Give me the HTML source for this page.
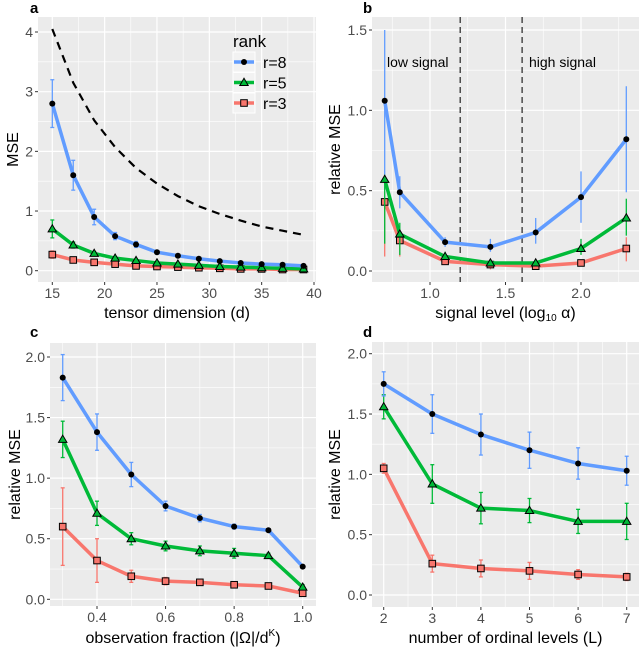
<!DOCTYPE html>
<html><head><meta charset="utf-8"><style>
body{margin:0;background:#fff;}
svg text{font-family:"Liberation Sans",sans-serif;}
</style></head><body>
<svg id="fig" width="640" height="651" viewBox="0 0 640 651" xmlns="http://www.w3.org/2000/svg"></svg>
<script>
// ---- Panel a data ----
const aX=[15,17,19,21,23,25,27,29,31,33,35,37,39];
const aR8=[2.8,1.6,0.9,0.58,0.44,0.31,0.25,0.2,0.16,0.13,0.11,0.1,0.08];
const aR8e=[0.4,0.25,0.13,0.06,0.05,0.03,0.02,0.02,0.01,0.01,0.01,0.01,0.01];
const aR5=[0.7,0.43,0.29,0.21,0.17,0.13,0.11,0.09,0.07,0.06,0.05,0.04,0.03];
const aR5e=[0.15,0.05,0.03,0.02,0.02,0.01,0.01,0.01,0.01,0.01,0.01,0.01,0.01];
const aR3=[0.27,0.18,0.14,0.11,0.08,0.07,0.06,0.05,0.04,0.03,0.03,0.02,0.02];
const aR3e=[0.06,0.02,0.02,0.01,0.01,0.01,0.01,0.01,0.01,0.01,0.01,0.01,0.01];
const aBound=[4.05,3.15,2.52,2.07,1.72,1.46,1.25,1.08,0.95,0.84,0.74,0.67,0.60];
const aXTicks=[15,20,25,30,35,40];
const aYTicks=[0,1,2,3,4];
// ---- Panel b data ----
const bX=[0.7,0.8,1.1,1.4,1.7,2.0,2.3];
const bR8=[1.06,0.49,0.18,0.15,0.24,0.46,0.82];
const bR8lo=[0.6,0.39,0.15,0.12,0.17,0.3,0.49];
const bR8hi=[1.5,0.59,0.21,0.2,0.33,0.62,1.15];
const bR5=[0.57,0.23,0.09,0.05,0.05,0.14,0.33];
const bR5lo=[0.17,0.1,0.07,0.03,0.03,0.1,0.22];
const bR5hi=[0.6,0.3,0.12,0.07,0.07,0.2,0.45];
const bR3=[0.43,0.19,0.06,0.04,0.03,0.05,0.14];
const bR3lo=[0.09,0.09,0.05,0.01,0.02,0.04,0.06];
const bR3hi=[0.43,0.2,0.07,0.05,0.04,0.06,0.21];
const bVlines=[1.2,1.61];
const bXTicks=[1.0,1.5,2.0];
const bYTicks=[0,0.5,1.0,1.5];
// ---- Panel c data ----
const cX=[0.3,0.4,0.5,0.6,0.7,0.8,0.9,1.0];
const cR8=[1.83,1.38,1.03,0.77,0.67,0.6,0.57,0.27];
const cR8e=[0.19,0.15,0.1,0.04,0.03,0.02,0.01,0.01];
const cR5=[1.32,0.71,0.5,0.44,0.4,0.38,0.36,0.1];
const cR5e=[0.15,0.1,0.05,0.04,0.04,0.04,0.02,0.02];
const cR3=[0.6,0.32,0.19,0.15,0.14,0.12,0.11,0.05];
const cR3e=[0.32,0.18,0.05,0.03,0.02,0.02,0.02,0.02];
const cXTicks=[0.4,0.6,0.8,1.0];
const cYTicks=[0,0.5,1.0,1.5,2.0];
// ---- Panel d data ----
const dX=[2,3,4,5,6,7];
const dR8=[1.75,1.5,1.33,1.2,1.09,1.03];
const dR8e=[0.1,0.16,0.17,0.15,0.13,0.12];
const dR5=[1.56,0.92,0.72,0.7,0.61,0.61];
const dR5e=[0.1,0.16,0.13,0.1,0.1,0.15];
const dR3=[1.05,0.26,0.22,0.2,0.17,0.15];
const dR3e=[0.04,0.07,0.07,0.07,0.04,0.03];
const dXTicks=[2,3,4,5,6,7];
const dYTicks=[0,0.5,1.0,1.5,2.0];

const NS="http://www.w3.org/2000/svg";
const svg=document.getElementById('fig');
const BLUE="#619CFF",GREEN="#00BA38",RED="#F8766D";
function mk(tag,attrs,parent){const e=document.createElementNS(NS,tag);for(const k in attrs)e.setAttribute(k,attrs[k]);(parent||svg).appendChild(e);return e;}
function lin(d0,d1,p0,p1){return v=>p0+(v-d0)*(p1-p0)/(d1-d0);}
function fmt(v,dec){return v.toFixed(dec);}

function panel(o){
  const g=mk('g',{});
  
  
  const bg=mk('rect',{x:o.L,y:o.T,width:o.R-o.L,height:o.B-o.T,fill:'#EBEBEB'},g);
  
  
  const X=o.sx,Y=o.sy;
  for(let i=0;i<o.yt.length-1;i++){const v=(o.yt[i]+o.yt[i+1])/2;mk('line',{x1:o.L,x2:o.R,y1:Y(v),y2:Y(v),stroke:'#fff','stroke-width':0.6},g);}
  if(o.yt.length){const st=o.yt[1]-o.yt[0];const v=o.yt[o.yt.length-1]+st/2;if(Y(v)>o.T)mk('line',{x1:o.L,x2:o.R,y1:Y(v),y2:Y(v),stroke:'#fff','stroke-width':0.6},g);}
  const xs=o.xt.slice();const st=xs[1]-xs[0];
  const mx=[xs[0]-st/2].concat(xs.map(v=>v+st/2));
  mx.forEach(v=>{const p=X(v);if(p>o.L&&p<o.R)mk('line',{x1:p,x2:p,y1:o.T,y2:o.B,stroke:'#fff','stroke-width':0.6},g);});
  o.yt.forEach(v=>{const p=Y(v);mk('line',{x1:o.L,x2:o.R,y1:p,y2:p,stroke:'#fff','stroke-width':1.2},g);
    mk('line',{x1:o.L-3,x2:o.L,y1:p,y2:p,stroke:'#333','stroke-width':1},g);
    const t=mk('text',{x:o.L-5,y:p+5,'text-anchor':'end','font-size':14,fill:'#4D4D4D'},g);t.textContent=fmt(v,o.ydec);
    });
  o.xt.forEach(v=>{const p=X(v);if(p<=o.R+1)mk('line',{x1:p,x2:p,y1:o.T,y2:o.B,stroke:'#fff','stroke-width':1.2},g);
    mk('line',{x1:p,x2:p,y1:o.B,y2:o.B+3,stroke:'#333','stroke-width':1},g);
    const t=mk('text',{x:p,y:o.B+16,'text-anchor':'middle','font-size':14,fill:'#4D4D4D'},g);t.textContent=fmt(v,o.xdec);
    });
  const yt=mk('text',{x:0,y:0,'text-anchor':'middle','font-size':16,fill:'#000',transform:`translate(${o.ytx},${(o.T+o.B)/2}) rotate(-90)`},g);
  yt.textContent=o.ytitle;
  const xt=mk('text',{x:(o.L+o.R)/2,y:o.xty,'text-anchor':'middle','font-size':16,fill:'#000'},g);
  xt.innerHTML=o.xtitle;
  const pl=mk('text',{x:o.plx,y:o.ply,'font-size':15,'font-weight':'bold',fill:'#000'},g);
  pl.textContent=o.label;
  return g;
}
function marker(g,shape,x,y,col){
  let m;
  if(shape==='circle')m=mk('circle',{cx:x,cy:y,r:3,fill:'#000'},g);
  else if(shape==='tri')m=mk('polygon',{points:`${x},${y-4.2} ${x-4.2},${y+3} ${x+4.2},${y+3}`,fill:col,stroke:'#000','stroke-width':1},g);
  else m=mk('rect',{x:x-3.3,y:y-3.3,width:6.6,height:6.6,fill:col,stroke:'#000','stroke-width':1},g);
  return m;
}
function series(g,X,Y,xs,ys,lo,hi,col,shape,name,caps){
  const sg=mk('g',{},g);
  
  
  for(let i=0;i<xs.length;i++){
    const x=X(xs[i]),y1=Y(lo[i]),y2=Y(hi[i]);
    const e=mk('line',{x1:x,x2:x,y1:y1,y2:y2,stroke:col,'stroke-width':1.3},sg);
    
    if(caps){mk('line',{x1:x-2,x2:x+2,y1:y1,y2:y1,stroke:col,'stroke-width':1.3},sg);mk('line',{x1:x-2,x2:x+2,y1:y2,y2:y2,stroke:col,'stroke-width':1.3},sg);}
  }
  const p=mk('polyline',{points:xs.map((v,i)=>X(v)+','+Y(ys[i])).join(' '),fill:'none',stroke:col,'stroke-width':3.5,'stroke-linejoin':'round'},sg);
  
  for(let i=0;i<xs.length;i++){const m=marker(sg,shape,X(xs[i]),Y(ys[i]),col);}
}
const sub=(a,b)=>a.map((v,i)=>v-b[i]), add=(a,b)=>a.map((v,i)=>v+b[i]);

// Panel a
{const o={name:'panel-a',L:38,R:316,T:17,B:282,sx:lin(15,40,52.3,314),sy:lin(0,4,270.7,32),xt:aXTicks,yt:aYTicks,xdec:0,ydec:0,
 ytitle:'MSE',ytx:18,xtitle:'tensor dimension (d)',xty:318,label:'a',plx:30,ply:13};
 const g=panel(o);
 const db=mk('polyline',{points:aX.map((v,i)=>o.sx(v)+','+o.sy(aBound[i])).join(' '),fill:'none',stroke:'#000','stroke-width':2.2,'stroke-dasharray':'8,6'},g);
 
 series(g,o.sx,o.sy,aX,aR3,sub(aR3,aR3e),add(aR3,aR3e),RED,'sq','series-r3',true);
 series(g,o.sx,o.sy,aX,aR5,sub(aR5,aR5e),add(aR5,aR5e),GREEN,'tri','series-r5',true);
 series(g,o.sx,o.sy,aX,aR8,sub(aR8,aR8e),add(aR8,aR8e),BLUE,'circle','series-r8',true);
 const lg=mk('g',{},g);
 const lt=mk('text',{x:233,y:47,'font-size':17,fill:'#000'},lg);lt.textContent='rank';
 
 [['r=8',BLUE,'circle'],['r=5',GREEN,'tri'],['r=3',RED,'sq']].forEach((d,i)=>{
  const cy=62+i*20.5;
  const e=mk('g',{},lg);
  mk('rect',{x:233,y:cy-10,width:22,height:20,fill:'#F2F2F2',stroke:'#fff','stroke-width':1},e);
  mk('line',{x1:234,x2:254,y1:cy,y2:cy,stroke:d[1],'stroke-width':3.5},e);
  marker(e,d[2],244,cy,d[1]);
  const t=mk('text',{x:263,y:cy+6,'font-size':16,fill:'#000'},e);t.textContent=d[0];
 });
}
// Panel b
{const o={name:'panel-b',L:372,R:639,T:17,B:282,sx:lin(1,2,430,581),sy:lin(0,1.5,271,30),xt:bXTicks,yt:bYTicks,xdec:1,ydec:1,
 ytitle:'relative MSE',ytx:340,xtitle:'signal level (log<tspan font-size="10" dy="3">10</tspan><tspan dy="-3"> α)</tspan>',xty:318,label:'b',plx:363,ply:13};
 const g=panel(o);
 bVlines.forEach(v=>{const l=mk('line',{x1:o.sx(v),x2:o.sx(v),y1:o.T,y2:o.B,stroke:'#333','stroke-width':1.3,'stroke-dasharray':'6,4'},g);
  });
 const t1=mk('text',{x:387,y:67,'font-size':14,fill:'#000'},g);t1.textContent='low signal';
 
 const t2=mk('text',{x:529,y:67,'font-size':14,fill:'#000'},g);t2.textContent='high signal';
 
 series(g,o.sx,o.sy,bX,bR3,bR3lo,bR3hi,RED,'sq','series-r3',false);
 series(g,o.sx,o.sy,bX,bR5,bR5lo,bR5hi,GREEN,'tri','series-r5',false);
 series(g,o.sx,o.sy,bX,bR8,bR8lo,bR8hi,BLUE,'circle','series-r8',false);
}
// Panel c
{const o={name:'panel-c',L:50,R:316,T:343,B:606,sx:lin(0.4,1.0,97,302.7),sy:lin(0,2,599.3,357),xt:cXTicks,yt:cYTicks,xdec:1,ydec:1,
 ytitle:'relative MSE',ytx:20,xtitle:'observation fraction (|Ω|/d<tspan font-size="10" dy="-7">K</tspan><tspan dy="7">)</tspan>',xty:643,label:'c',plx:30,ply:337};
 const g=panel(o);
 series(g,o.sx,o.sy,cX,cR3,sub(cR3,cR3e),add(cR3,cR3e),RED,'sq','series-r3',true);
 series(g,o.sx,o.sy,cX,cR5,sub(cR5,cR5e),add(cR5,cR5e),GREEN,'tri','series-r5',true);
 series(g,o.sx,o.sy,cX,cR8,sub(cR8,cR8e),add(cR8,cR8e),BLUE,'circle','series-r8',true);
}
// Panel d
{const o={name:'panel-d',L:372,R:639,T:342,B:607,sx:lin(2,7,383.7,626.7),sy:lin(0,2,595,353.7),xt:dXTicks,yt:dYTicks,xdec:0,ydec:1,
 ytitle:'relative MSE',ytx:340,xtitle:'number of ordinal levels (L)',xty:643,label:'d',plx:363,ply:337};
 const g=panel(o);
 series(g,o.sx,o.sy,dX,dR3,sub(dR3,dR3e),add(dR3,dR3e),RED,'sq','series-r3',true);
 series(g,o.sx,o.sy,dX,dR5,sub(dR5,dR5e),add(dR5,dR5e),GREEN,'tri','series-r5',true);
 series(g,o.sx,o.sy,dX,dR8,sub(dR8,dR8e),add(dR8,dR8e),BLUE,'circle','series-r8',true);
}
</script>
</body></html>
